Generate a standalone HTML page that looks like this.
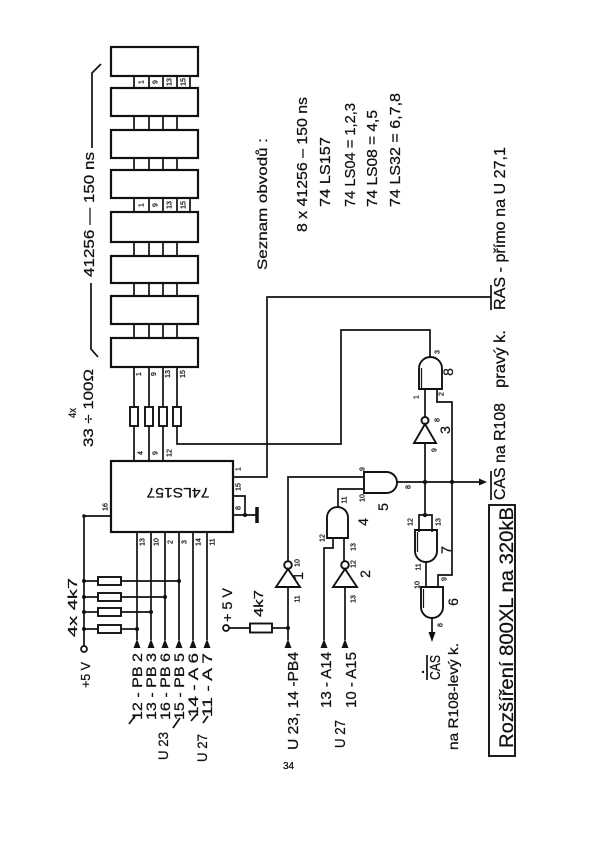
<!DOCTYPE html>
<html><head><meta charset="utf-8"><style>
html,body{margin:0;padding:0;background:#fff;}
svg{display:block;}
text{font-family:"Liberation Sans",sans-serif;fill:#111;stroke:#111;stroke-width:0.25;}
</style></head><body>
<svg width="600" height="847" viewBox="0 0 600 847" xmlns="http://www.w3.org/2000/svg">
<rect x="0" y="0" width="600" height="847" fill="#fff"/>
<g stroke="#111" stroke-width="1.7" fill="none">
<!-- memory bus lines -->
<line x1="134" y1="76" x2="134" y2="407"/>
<line x1="149" y1="76" x2="149" y2="407"/>
<line x1="163" y1="76" x2="163" y2="407"/>
<line x1="177" y1="76" x2="177" y2="407"/>
<line x1="190" y1="76" x2="190" y2="88"/>
<line x1="190" y1="198" x2="190" y2="212"/>
<!-- memory chips -->
<g fill="#fff" stroke-width="2.2">
<rect x="111" y="47" width="87" height="29"/>
<rect x="111" y="88" width="87" height="28"/>
<rect x="111" y="130" width="87" height="28"/>
<rect x="111" y="170" width="87" height="28"/>
<rect x="111" y="212" width="87" height="30"/>
<rect x="111" y="256" width="87" height="27"/>
<rect x="111" y="296" width="87" height="28"/>
<rect x="111" y="338" width="87" height="29"/>
</g>
<!-- bracket -->
<polyline points="101,64 92,73 92,148"/>
<polyline points="91,283 91,349 98,357"/>
<!-- series resistors -->
<g fill="#fff" stroke-width="1.9">
<rect x="130" y="407" width="8" height="19"/>
<rect x="145" y="407" width="8" height="19"/>
<rect x="159" y="407" width="8" height="19"/>
<rect x="173" y="407" width="8" height="19"/>
</g>
<line x1="134" y1="426" x2="134" y2="461"/>
<line x1="149" y1="426" x2="149" y2="461"/>
<line x1="163" y1="426" x2="163" y2="461"/>
<polyline points="177,426 177,444 341,444 341,330 430,330 430,357"/>
<!-- 74LS157 -->
<rect x="111" y="461" width="122" height="71" stroke-width="2.2" fill="#fff"/>
<polyline points="233,477 267,477 267,297 491,297"/>
<polyline points="233,496 245,496 245,515"/>
<line x1="233" y1="515" x2="257" y2="515"/>
<line x1="257" y1="507" x2="257" y2="523" stroke-width="3.5"/>
<polyline points="111,516 84,516 84,646"/>
<circle cx="84" cy="649" r="3"/>
<!-- bottom pins -->
<line x1="137" y1="532" x2="137" y2="640"/>
<line x1="151" y1="532" x2="151" y2="640"/>
<line x1="165" y1="532" x2="165" y2="640"/>
<line x1="179" y1="532" x2="179" y2="640"/>
<line x1="193" y1="532" x2="193" y2="640"/>
<line x1="207" y1="532" x2="207" y2="640"/>
<!-- pull-up resistors -->
<line x1="84" y1="581" x2="98" y2="581"/><line x1="121" y1="581" x2="179" y2="581"/>
<line x1="84" y1="597" x2="98" y2="597"/><line x1="121" y1="597" x2="165" y2="597"/>
<line x1="84" y1="612" x2="98" y2="612"/><line x1="121" y1="612" x2="151" y2="612"/>
<line x1="84" y1="629" x2="98" y2="629"/><line x1="121" y1="629" x2="137" y2="629"/>
<g fill="#fff" stroke-width="1.9">
<rect x="98" y="577" width="23" height="8"/>
<rect x="98" y="593" width="23" height="8"/>
<rect x="98" y="608" width="23" height="8"/>
<rect x="98" y="625" width="23" height="8"/>
</g>
<!-- slashes -->
<line x1="129" y1="724" x2="135" y2="716"/>
<line x1="173" y1="728" x2="180" y2="718"/>
<line x1="191" y1="721" x2="197" y2="714"/>
<line x1="203" y1="723" x2="208" y2="716"/>

<!-- inverter 1 -->
<polygon points="276,587 300,587 288,569" stroke-width="1.9"/>
<circle cx="288" cy="565" r="3.8" stroke-width="1.9"/>
<polyline points="288,561 288,477 364,477"/>
<line x1="288" y1="587" x2="288" y2="640"/>
<line x1="229" y1="628" x2="250" y2="628"/>
<line x1="272" y1="628" x2="288" y2="628"/>
<rect x="250" y="623.5" width="22" height="9" fill="#fff" stroke-width="1.9"/>
<circle cx="226" cy="628" r="3"/>
<!-- gate 4 -->
<path d="M327,538 L327,517.5 A10.5,10.5 0 0 1 348,517.5 L348,538 Z" stroke-width="1.9"/>
<polyline points="338,507 338,489 364,489"/>
<polyline points="333,538 333,548 324,548 324,640"/>
<line x1="344" y1="538" x2="344" y2="561"/>
<!-- inverter 2 -->
<polygon points="333,587 357,587 345,569" stroke-width="1.9"/>
<circle cx="345" cy="565" r="3.8" stroke-width="1.9"/>
<line x1="345" y1="587" x2="345" y2="640"/>
<!-- gate 5 -->
<path d="M364,472 L386.5,472 A10.5,10.5 0 0 1 386.5,493 L364,493 Z" stroke-width="1.9"/>
<line x1="397" y1="482" x2="481" y2="482"/>
<!-- inverter 3 -->
<polygon points="414,443 436,443 425,424" stroke-width="1.9"/>
<circle cx="425" cy="420.5" r="3.5" stroke-width="1.9"/>
<line x1="425" y1="443" x2="425" y2="515"/>
<line x1="425" y1="389" x2="425" y2="417"/>
<!-- gate 8 OR up -->
<path d="M419,389 L419,368.5 A11.5,11.5 0 0 1 442,368.5 L442,389 Z" stroke-width="1.9"/>
<line x1="421.5" y1="389" x2="421.5" y2="368" stroke-width="1.2"/>
<polyline points="437,389 437,402 452,402 452,575 438,575 438,587"/>
<!-- gate 7 -->
<polyline points="419,532 419,515 432,515 432,532"/>
<path d="M415,530 L415,551 A11,11 0 0 0 437,551 L437,530 Z" stroke-width="1.9"/>
<line x1="417.5" y1="532" x2="417.5" y2="552" stroke-width="1.2"/>
<line x1="426" y1="562" x2="426" y2="587"/>
<!-- gate 6 -->
<path d="M421,587 L421,607 A11,11 0 0 0 443,607 L443,587 Z" stroke-width="1.9"/>
<line x1="423.5" y1="589" x2="423.5" y2="608" stroke-width="1.2"/>
<line x1="432" y1="618" x2="432" y2="633"/>
<!-- overlines & box -->
<line x1="491" y1="285" x2="491" y2="310"/>
<line x1="491" y1="471" x2="491" y2="500"/>
<line x1="427" y1="655" x2="427" y2="680"/>
<rect x="489" y="505" width="26" height="251" stroke-width="1.9"/>
</g>
<!-- filled elements -->
<g fill="#111" stroke="none">
<circle cx="245" cy="515" r="2"/>
<circle cx="84" cy="516" r="1.8"/>
<circle cx="84" cy="581" r="2"/><circle cx="179" cy="581" r="2"/>
<circle cx="84" cy="597" r="2"/><circle cx="165" cy="597" r="2"/>
<circle cx="84" cy="612" r="2"/><circle cx="151" cy="612" r="2"/>
<circle cx="84" cy="629" r="2"/><circle cx="137" cy="629" r="2"/>
<circle cx="288" cy="628" r="2"/>
<circle cx="425" cy="482" r="2.2"/>
<circle cx="452" cy="482" r="2.2"/>
<circle cx="425" cy="515" r="2.2"/>
<circle cx="423" cy="672" r="1.2"/>
<polygon points="137,639 133.5,648 140.5,648"/>
<polygon points="151,639 147.5,648 154.5,648"/>
<polygon points="165,639 161.5,648 168.5,648"/>
<polygon points="179,639 175.5,648 182.5,648"/>
<polygon points="193,639 189.5,648 196.5,648"/>
<polygon points="207,639 203.5,648 210.5,648"/>
<polygon points="288,639 284.5,648 291.5,648"/>
<polygon points="324,639 320.5,648 327.5,648"/>
<polygon points="345,639 341.5,648 348.5,648"/>
<polygon points="479,478.5 479,485.5 487,482"/>
<polygon points="428.5,632 435.5,632 432,642"/>
</g>

<!-- memory pin labels -->
<g font-size="7" text-anchor="middle">
<text transform="translate(143.5,82) rotate(-90)">1</text>
<text transform="translate(157.5,82) rotate(-90)">9</text>
<text transform="translate(171.5,82) rotate(-90)">13</text>
<text transform="translate(185.5,82) rotate(-90)">15</text>
<text transform="translate(143.5,205) rotate(-90)">1</text>
<text transform="translate(157.5,205) rotate(-90)">9</text>
<text transform="translate(171.5,205) rotate(-90)">13</text>
<text transform="translate(185.5,205) rotate(-90)">15</text>
<text transform="translate(141,374) rotate(-90)">1</text>
<text transform="translate(156,374) rotate(-90)">9</text>
<text transform="translate(170,374) rotate(-90)">13</text>
<text transform="translate(185,374) rotate(-90)">15</text>
<!-- 74LS157 pins -->
<text transform="translate(142.5,453) rotate(-90)">4</text>
<text transform="translate(157.5,453) rotate(-90)">9</text>
<text transform="translate(171.5,453) rotate(-90)">12</text>
<text transform="translate(240.5,469) rotate(-90)">1</text>
<text transform="translate(240.5,487) rotate(-90)">15</text>
<text transform="translate(240.5,508) rotate(-90)">8</text>
<text transform="translate(107.5,507) rotate(-90)">16</text>
<text transform="translate(144.5,542) rotate(-90)">13</text>
<text transform="translate(158.5,542) rotate(-90)">10</text>
<text transform="translate(172.5,542) rotate(-90)">2</text>
<text transform="translate(186.5,542) rotate(-90)">3</text>
<text transform="translate(200.5,542) rotate(-90)">14</text>
<text transform="translate(214.5,542) rotate(-90)">11</text>
<!-- gate pins -->
<text transform="translate(439.5,352) rotate(-90)">3</text>
<text transform="translate(418.5,397) rotate(-90)">1</text>
<text transform="translate(443.5,394) rotate(-90)">2</text>
<text transform="translate(439.5,420) rotate(-90)">8</text>
<text transform="translate(436.5,450) rotate(-90)">9</text>
<text transform="translate(364.5,469) rotate(-90)">9</text>
<text transform="translate(364.5,498) rotate(-90)">10</text>
<text transform="translate(410.5,487) rotate(-90)">8</text>
<text transform="translate(346.5,500) rotate(-90)">11</text>
<text transform="translate(324.5,538) rotate(-90)">12</text>
<text transform="translate(355.5,547) rotate(-90)">13</text>
<text transform="translate(355.5,564) rotate(-90)">12</text>
<text transform="translate(355.5,599) rotate(-90)">13</text>
<text transform="translate(299.5,563) rotate(-90)">10</text>
<text transform="translate(299.5,599) rotate(-90)">11</text>
<text transform="translate(412.5,522) rotate(-90)">12</text>
<text transform="translate(440.5,522) rotate(-90)">13</text>
<text transform="translate(420.5,567) rotate(-90)">11</text>
<text transform="translate(419.5,585) rotate(-90)">10</text>
<text transform="translate(446.5,579) rotate(-90)">9</text>
<text transform="translate(442.5,625) rotate(-90)">8</text>
</g>
<!-- gate numbers -->
<g font-size="14" text-anchor="middle">
<text transform="translate(303,576) rotate(-90)">1</text>
<text transform="translate(370,574) rotate(-90)">2</text>
<text transform="translate(368,522) rotate(-90)">4</text>
<text transform="translate(388,507) rotate(-90)">5</text>
<text transform="translate(450,430) rotate(-90)">3</text>
<text transform="translate(453,372) rotate(-90)">8</text>
<text transform="translate(451,550) rotate(-90)">7</text>
<text transform="translate(458,602) rotate(-90)">6</text>
</g>

<!-- chip label -->
<text transform="translate(178,488) rotate(180)" font-size="14" text-anchor="middle" textLength="63" lengthAdjust="spacingAndGlyphs">74LS157</text>

<!-- top-left labels -->
<text transform="translate(94,277) rotate(-90)" font-size="15" textLength="125" lengthAdjust="spacingAndGlyphs">41256 — 150 ns</text>
<text transform="translate(76,418) rotate(-90)" font-size="11" textLength="10" lengthAdjust="spacingAndGlyphs">4x</text>
<text transform="translate(93,447) rotate(-90)" font-size="14" textLength="78" lengthAdjust="spacingAndGlyphs">33 ÷ 100Ω</text>

<!-- right list -->
<text transform="translate(267,270) rotate(-90)" font-size="14" textLength="132" lengthAdjust="spacingAndGlyphs">Seznam  obvodů :</text>
<text transform="translate(307,232) rotate(-90)" font-size="15" textLength="135" lengthAdjust="spacingAndGlyphs">8 x 41256 – 150 ns</text>
<text transform="translate(330,207) rotate(-90)" font-size="15" textLength="70" lengthAdjust="spacingAndGlyphs">74 LS157</text>
<text transform="translate(355,207) rotate(-90)" font-size="15" textLength="104" lengthAdjust="spacingAndGlyphs">74 LS04 = 1,2,3</text>
<text transform="translate(377,207) rotate(-90)" font-size="15" textLength="97" lengthAdjust="spacingAndGlyphs">74 LS08 = 4,5</text>
<text transform="translate(400,207) rotate(-90)" font-size="15" textLength="114" lengthAdjust="spacingAndGlyphs">74 LS32 = 6,7,8</text>

<text transform="translate(505,500) rotate(-90)" font-size="16" textLength="97" lengthAdjust="spacingAndGlyphs">CAS na R108</text>
<text transform="translate(505,388) rotate(-90)" font-size="16" textLength="58" lengthAdjust="spacingAndGlyphs">pravý k.</text>
<text transform="translate(505,310) rotate(-90)" font-size="16" textLength="163" lengthAdjust="spacingAndGlyphs">RAS - přímo na  U 27,1</text>

<text transform="translate(513,748) rotate(-90)" font-size="19" textLength="241" lengthAdjust="spacingAndGlyphs">Rozšíření  800XL na 320kB</text>

<!-- bottom labels -->
<text transform="translate(298,750) rotate(-90)" font-size="15" textLength="98" lengthAdjust="spacingAndGlyphs">U 23, 14 -PB4</text>
<text transform="translate(331,708) rotate(-90)" font-size="15" textLength="56" lengthAdjust="spacingAndGlyphs">13 - A14</text>
<text transform="translate(356,708) rotate(-90)" font-size="15" textLength="56" lengthAdjust="spacingAndGlyphs">10 - A15</text>
<text transform="translate(345,748) rotate(-90)" font-size="15" textLength="28" lengthAdjust="spacingAndGlyphs">U 27</text>
<text transform="translate(440,680) rotate(-90)" font-size="15" textLength="25" lengthAdjust="spacingAndGlyphs">CAS</text>
<text transform="translate(458,750) rotate(-90)" font-size="14" textLength="107" lengthAdjust="spacingAndGlyphs">na R108-levý k.</text>
<text x="283" y="769" font-size="10">34</text>

<!-- left labels -->
<text transform="translate(77,637) rotate(-90)" font-size="13" textLength="59" lengthAdjust="spacingAndGlyphs">4x 4k7</text>
<text transform="translate(90,688) rotate(-90)" font-size="13" textLength="26" lengthAdjust="spacingAndGlyphs">+5 V</text>
<text transform="translate(232,622) rotate(-90)" font-size="14" textLength="34" lengthAdjust="spacingAndGlyphs">+ 5 V</text>
<text transform="translate(263,617) rotate(-90)" font-size="13" textLength="27" lengthAdjust="spacingAndGlyphs">4k7</text>
<text transform="translate(142,720) rotate(-90)" font-size="14" textLength="67" lengthAdjust="spacingAndGlyphs">12 - PB 2</text>
<text transform="translate(156,720) rotate(-90)" font-size="14" textLength="67" lengthAdjust="spacingAndGlyphs">13 - PB 3</text>
<text transform="translate(170,720) rotate(-90)" font-size="14" textLength="67" lengthAdjust="spacingAndGlyphs">16 - PB 6</text>
<text transform="translate(184,720) rotate(-90)" font-size="14" textLength="67" lengthAdjust="spacingAndGlyphs">15 - PB 5</text>
<text transform="translate(198,717) rotate(-90)" font-size="14" textLength="64" lengthAdjust="spacingAndGlyphs">14 - A 6</text>
<text transform="translate(212,717) rotate(-90)" font-size="14" textLength="64" lengthAdjust="spacingAndGlyphs">11 - A 7</text>
<text transform="translate(168,760) rotate(-90)" font-size="14" textLength="28" lengthAdjust="spacingAndGlyphs">U 23</text>
<text transform="translate(207,762) rotate(-90)" font-size="14" textLength="28" lengthAdjust="spacingAndGlyphs">U 27</text>
</svg>
</body></html>
